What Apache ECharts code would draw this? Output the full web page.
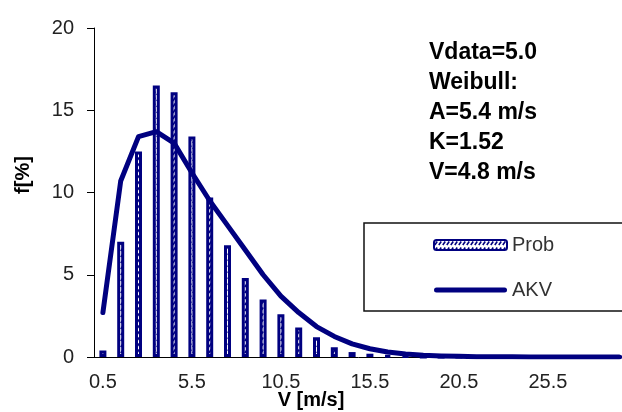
<!DOCTYPE html>
<html><head><meta charset="utf-8">
<script src="https://cdn.jsdelivr.net/npm/echarts@6/dist/echarts.min.js"></script>
<style>html,body{margin:0;padding:0;background:#fff}#c{width:622px;height:412px}</style>
</head><body><div id="c"></div>
<script>
// ---- data ----
const categories = ['0.5','1.5','2.5','3.5','4.5','5.5','6.5','7.5','8.5','9.5',
  '10.5','11.5','12.5','13.5','14.5','15.5','16.5','17.5','18.5','19.5',
  '20.5','21.5','22.5','23.5','24.5','25.5','26.5','27.5','28.5','29.5'];
const probValues = [0.4, 7.0, 12.5, 16.5, 16.1, 13.4, 9.7, 6.8, 4.8, 3.5,
  2.6, 1.8, 1.2, 0.6, 0.3, 0.2, 0.1, 0.05, 0, 0,
  0, 0, 0, 0, 0, 0, 0, 0, 0, 0];
const akvValues = [2.7, 10.7, 13.4, 13.7, 13.0, 11.2, 9.5, 8.0, 6.5, 5.0,
  3.7, 2.7, 1.85, 1.25, 0.8, 0.5, 0.3, 0.18, 0.1, 0.06,
  0.04, 0.02, 0.01, 0.01, 0, 0, 0, 0, 0, 0];
const yMin = 0, yMax = 20, yStep = 5;
const seriesNames = ['Prob', 'AKV'];
const xTitle = 'V [m/s]';
const yTitle = 'f[%]';
const annotationLines = ['Vdata=5.0', 'Weibull:', 'A=5.4 m/s', 'K=1.52', 'V=4.8 m/s'];

// ---- style ----
const NAVY = '#000080';
function makePattern() {
  const c = document.createElement('canvas');
  c.width = 4; c.height = 6;
  const g = c.getContext('2d');
  g.fillStyle = '#fff'; g.fillRect(0, 0, 4, 6);
  g.strokeStyle = NAVY; g.lineWidth = 1.6;
  g.beginPath(); g.moveTo(0.8, 5); g.lineTo(3.2, 1.5); g.stroke();
  return c;
}
const pattern = makePattern();
const FONT = 'Liberation Sans, Arial, sans-serif';
const lineIcon = 'path://M2.5,0 L70.5,0 A2.5,2.5 0 0 1 70.5,5 L2.5,5 A2.5,2.5 0 0 1 2.5,0 Z';

const chart = echarts.init(document.getElementById('c'), null, {renderer: 'canvas'});
chart.setOption({
  animation: false,
  backgroundColor: '#fff',
  textStyle: {fontFamily: FONT},
  grid: {left: 94, top: 28, width: 534, height: 329, outerBoundsMode: 'none', containLabel: false},
  xAxis: {
    type: 'category', data: categories, boundaryGap: true,
    axisLine: {lineStyle: {color: '#000', width: 1}},
    axisTick: {interval: 4, length: 6, lineStyle: {color: '#000'}},
    axisLabel: {interval: 4, margin: 15, fontSize: 20, color: '#222', fontFamily: FONT},
    name: xTitle, nameLocation: 'middle', nameGap: 33, nameMoveOverlap: false,
    nameTextStyle: {fontSize: 20, fontWeight: 'bold', color: '#000', fontFamily: FONT, padding: [0, 100, 0, 0]}
  },
  yAxis: {
    type: 'value', min: yMin, max: yMax, interval: yStep,
    splitLine: {show: false},
    axisLine: {show: true, lineStyle: {color: '#000', width: 1}},
    axisTick: {show: true, length: 7, lineStyle: {color: '#000'}},
    axisLabel: {margin: 20, fontSize: 20, color: '#222', fontFamily: FONT}
  },
  legend: {
    data: [
      {name: seriesNames[0]},
      {name: seriesNames[1], icon: lineIcon, itemStyle: {color: NAVY, borderWidth: 0}, lineStyle: {width: 0}}
    ],
    orient: 'vertical', left: 364, top: 223,
    padding: [12, 150, 11, 69], itemGap: 25, itemWidth: 73, itemHeight: 10,
    borderColor: '#111', borderWidth: 1.5, backgroundColor: '#fff',
    textStyle: {fontSize: 20, color: '#333', fontFamily: FONT}
  },
  graphic: [
    {type: 'text', x: 23, y: 175, rotation: Math.PI / 2,
     style: {text: yTitle, fontSize: 20, fontWeight: 'bold', fontFamily: FONT, fill: '#000', align: 'center', verticalAlign: 'middle'}},
    {type: 'text', left: 429, top: 38,
     style: {text: annotationLines.join('\n'), fontSize: 23, fontWeight: 'bold', fontFamily: FONT, lineHeight: 30, fill: '#000'}}
  ],
  series: [
    {type: 'bar', name: seriesNames[0], data: probValues, barWidth: 7,
     itemStyle: {color: {image: pattern, repeat: 'repeat'}, borderColor: NAVY, borderWidth: 3}},
    {type: 'line', name: seriesNames[1], data: akvValues, symbol: 'none',
     lineStyle: {color: NAVY, width: 5, cap: 'round', join: 'round'}, itemStyle: {color: NAVY}}
  ]
});
</script></body></html>
